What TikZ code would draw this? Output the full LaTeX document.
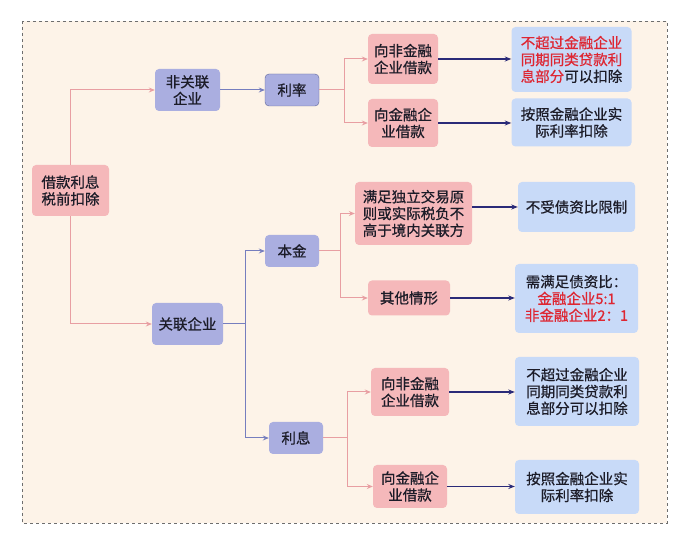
\documentclass[tikz,border=0pt]{standalone}
\usepackage{fontspec}
\setmainfont{Noto Sans CJK SC}[FakeBold=0.7]
\usetikzlibrary{arrows.meta}

\definecolor{bgcream}{RGB}{253,243,232}
\definecolor{pinkfill}{RGB}{245,184,186}
\definecolor{purpfill}{RGB}{170,174,224}
\definecolor{bluefill}{RGB}{200,218,248}
\definecolor{pinkline}{RGB}{232,158,162}
\definecolor{purpline}{RGB}{118,126,190}
\definecolor{navyline}{RGB}{42,42,120}
\definecolor{redtext}{RGB}{222,38,50}
\definecolor{textdark}{RGB}{28,28,40}
\definecolor{framegray}{RGB}{110,110,110}

\begin{document}
\begin{tikzpicture}[x=1pt, y=-1pt,
    base/.style={rounded corners=4pt, inner sep=0pt, align=center,
        font=\fontsize{14.5}{16.8}\selectfont, text=textdark},
    pinkbox/.style={base, fill=pinkfill},
    purpbox/.style={base, fill=purpfill},
    bluebox/.style={base, fill=bluefill},
    pinkarr/.style={-{Stealth[length=6pt, width=5pt]}, draw=pinkline, line width=1pt},
    purparr/.style={-{Stealth[length=6pt, width=5pt]}, draw=purpline, line width=1pt},
    navyarr/.style={-{Stealth[length=6.5pt, width=5pt]}, draw=navyline, line width=1.1pt}
    ]
    \useasboundingbox (0,0) rectangle (673,545);
    \draw[framegray, dashed, fill=bgcream] (22,21) rectangle (667,523);

    % root and first level
    \node[pinkbox, minimum width=77pt, minimum height=51pt] (root) at (70.5,190.5) {借款利息\\税前扣除};
    \node[purpbox, minimum width=65pt, minimum height=42pt] (fgl) at (187.5,90) {非关联\\企业};
    \node[purpbox, minimum width=71pt, minimum height=42pt] (gl) at (187.5,324) {关联企业};

    % second level
    \node[purpbox, draw=purpline!80!black, minimum width=54pt, minimum height=32pt] (lilv) at (292,90) {利率};
    \node[purpbox, minimum width=54pt, minimum height=32pt] (bj) at (292,251) {本金};
    \node[purpbox, minimum width=54pt, minimum height=32pt] (lx) at (296,438) {利息};

    % third level
    \node[pinkbox, minimum width=70pt, minimum height=50pt] (a1) at (403,59) {向非金融\\企业借款};
    \node[pinkbox, minimum width=70pt, minimum height=48pt] (a2) at (403,123) {向金融企\\业借款};
    \node[pinkbox, minimum width=117pt, minimum height=63pt] (b1) at (413.5,213.5) {满足独立交易原\\则或实际税负不\\高于境内关联方};
    \node[pinkbox, minimum width=82pt, minimum height=35pt] (b2) at (409,298) {其他情形};
    \node[pinkbox, minimum width=78pt, minimum height=48pt] (c1) at (410,392) {向非金融\\企业借款};
    \node[pinkbox, minimum width=74pt, minimum height=43pt] (c2) at (410,486.5) {向金融企\\业借款};

    % results
    \node[bluebox, minimum width=120pt, minimum height=65pt] (r1) at (571.5,59.5)
        {\textcolor{redtext}{不超过金融企业}\\\textcolor{redtext}{同期同类贷款利}\\\textcolor{redtext}{息部分}可以扣除};
    \node[bluebox, minimum width=120pt, minimum height=48pt] (r2) at (571.5,122.5) {按照金融企业实\\际利率扣除};
    \node[bluebox, minimum width=117pt, minimum height=50pt] (rb1) at (576.5,207) {不受债资比限制};
    \node[bluebox, minimum width=123pt, minimum height=69pt] (rb2) at (576.5,298.5)
        {需满足债资比：\\\textcolor{redtext}{金融企业5:1}\\\textcolor{redtext}{非金融企业2：1}};
    \node[bluebox, minimum width=124pt, minimum height=69pt] (rc1) at (577,391.5) {不超过金融企业\\同期同类贷款利\\息部分可以扣除};
    \node[bluebox, minimum width=124pt, minimum height=54pt] (rc2) at (577,487) {按照金融企业实\\际利率扣除};

    % connectors
    \draw[pinkarr] (root.north) |- (fgl.west);
    \draw[pinkarr] (root.south) |- (gl.west);
    \draw[purparr] (fgl) -- (lilv);

    \draw[pinkline, line width=1pt] (lilv.east) -- ++(25,0) coordinate (j1);
    \draw[pinkarr] (j1) |- (a1.west);
    \draw[pinkarr] (j1) |- (a2.west);

    \draw[purpline, line width=1pt] (gl.east) -- ++(22,0) coordinate (j2);
    \draw[purparr] (j2) |- (bj.west);
    \draw[purparr] (j2) |- (lx.west);

    \draw[pinkline, line width=1pt] (bj.east) -- ++(21,0) coordinate (j3);
    \draw[pinkarr] (j3) |- (b1.west);
    \draw[pinkarr] (j3) |- (b2.west);

    \draw[pinkline, line width=1pt] (lx.east) -- ++(24,0) coordinate (j4);
    \draw[pinkarr] (j4) |- (c1.west);
    \draw[pinkarr] (j4) |- (c2.west);

    \draw[navyarr] (a1.east) -- (a1.east -| r1.west);
    \draw[navyarr] (a2.east) -- (a2.east -| r2.west);
    \draw[navyarr] (rb1.west -| b1.east) -- (rb1.west);
    \draw[navyarr] (b2.east) -- (b2.east -| rb2.west);
    \draw[navyarr] (c1.east) -- (c1.east -| rc1.west);
    \draw[navyarr] (c2.east) -- (c2.east -| rc2.west);
\end{tikzpicture}
\end{document}
